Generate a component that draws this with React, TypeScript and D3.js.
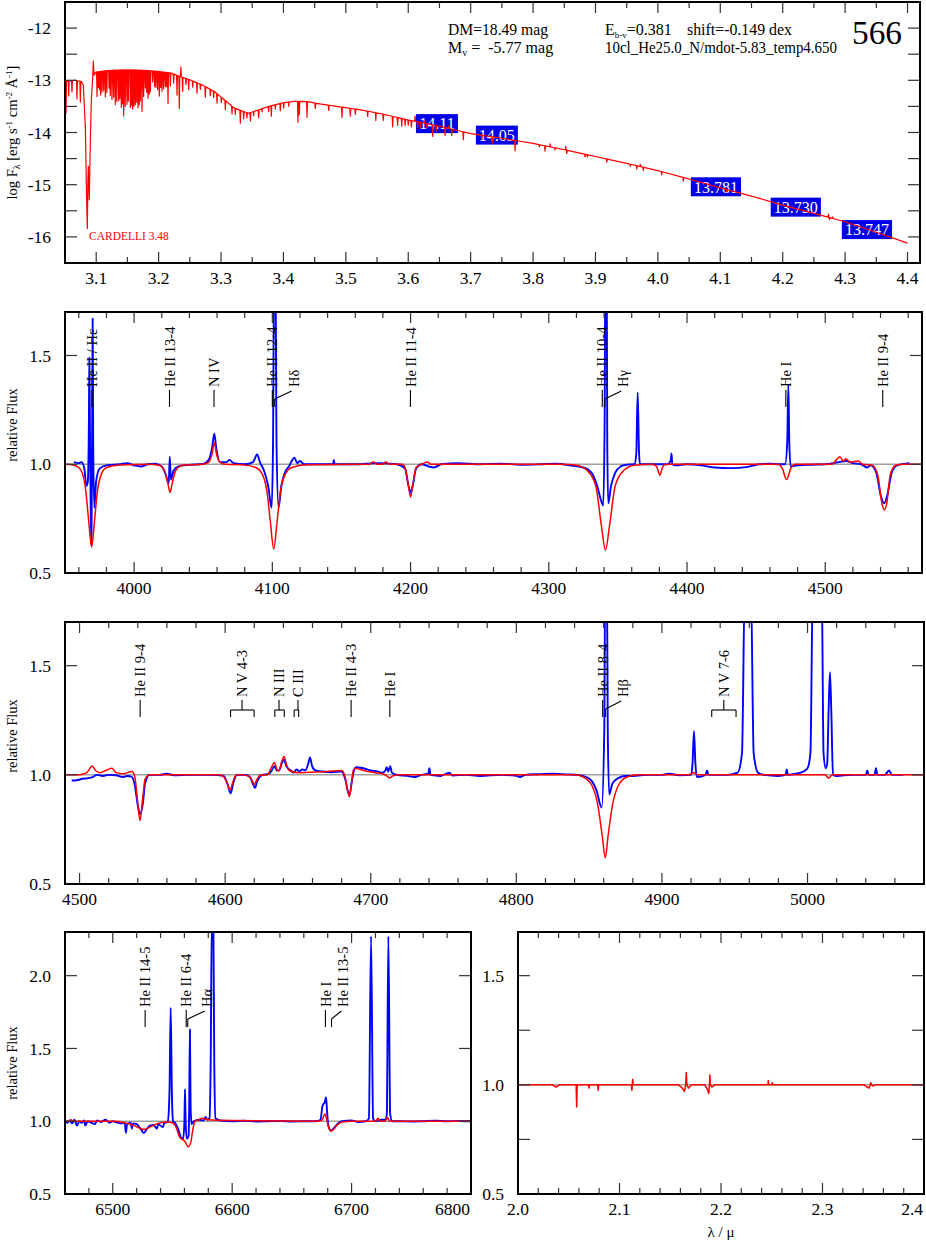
import React from 'react';
import * as d3 from 'd3';

const SERIF = '"Liberation Serif", "DejaVu Serif", serif';
const RED = '#ff0000';
const BLUE = '#0000ff';
const GREY = '#a0a0a0';

type Pt = [number, number];
type Box = { l: number; r: number; t: number; b: number };
type Mark = { lam: number; text: string; kind?: 'tick' | 'slant' | 'bracket'; at?: number; lo?: number; hi?: number };

// ---------------- panel 1 : model SED (log lambda, log F) ----------------
const sedShape: Pt[] = [
  [3.050, -13.02], [3.065, -13.0], [3.076, -13.02], [3.0794, -13.1], [3.0826, -13.89], [3.0845, -15.2],
  [3.0858, -15.84], [3.0866, -15.0], [3.0874, -14.65], [3.0882, -15.0], [3.0889, -15.29], [3.0905, -14.2],
  [3.0922, -13.38], [3.0943, -12.97], [3.0954, -12.63], [3.0966, -12.9], [3.100, -12.84], [3.120, -12.81],
  [3.140, -12.80], [3.160, -12.80], [3.180, -12.81], [3.200, -12.83], [3.220, -12.86], [3.235, -12.93],
  [3.250, -12.99], [3.270, -13.09], [3.290, -13.22], [3.302, -13.34], [3.320, -13.52], [3.334, -13.59],
  [3.344, -13.63], [3.360, -13.57], [3.376, -13.50], [3.400, -13.43], [3.420, -13.40], [3.440, -13.41],
  [3.451, -13.44], [3.480, -13.49], [3.526, -13.57], [3.560, -13.65], [3.600, -13.76], [3.650, -13.88],
  [3.700, -14.02], [3.750, -14.11], [3.800, -14.21], [3.850, -14.33], [3.900, -14.46], [3.950, -14.59],
  [4.000, -14.73], [4.050, -14.89], [4.100, -15.06], [4.150, -15.22], [4.200, -15.39], [4.250, -15.55],
  [4.300, -15.71], [4.350, -15.91], [4.400, -16.12],
];

// [log lambda, offset from continuum in dex]
const sedLines: Pt[] = [
  [3.0516, -0.61], [3.0559, -0.29], [3.0612, -0.22], [3.0692, -0.35], [3.0746, -0.40],
  [3.1013, -0.47], [3.1030, -0.30], [3.1050, -0.34], [3.1070, -0.45], [3.1093, -0.40], [3.1120, -0.38],
  [3.1146, -0.50], [3.1170, -0.42], [3.1206, -0.34], [3.1225, -0.48], [3.1253, -0.56], [3.1280, -0.52],
  [3.1306, -0.66], [3.1330, -0.60], [3.1360, -0.59], [3.1380, -0.55], [3.1403, -0.72], [3.1420, -0.65],
  [3.1440, -0.88], [3.1465, -0.70], [3.1493, -0.66], [3.1515, -0.60], [3.1547, -0.72], [3.1565, -0.68],
  [3.1584, -0.75], [3.1605, -0.70], [3.1627, -0.66], [3.1650, -0.62], [3.1670, -0.72], [3.1690, -0.66],
  [3.1707, -0.59], [3.1734, -0.79], [3.1760, -0.50], [3.1787, -0.34], [3.1810, -0.42], [3.1830, -0.53],
  [3.1850, -0.45], [3.1868, -0.40], [3.1905, -0.21], [3.1935, -0.30], [3.1958, -0.31], [3.1985, -0.35],
  [3.2012, -0.47], [3.2035, -0.30], [3.2054, -0.37], [3.2080, -0.32], [3.2108, -0.27], [3.2130, -0.28],
  [3.2151, -0.59], [3.2188, -0.25], [3.2241, -0.17], [3.2295, -0.38], [3.2332, -0.62], [3.2357, 0.19],
  [3.2385, -0.27], [3.2439, -0.12], [3.2482, -0.20], [3.2546, -0.12], [3.2615, -0.20], [3.2669, -0.10],
  [3.2749, -0.20], [3.2829, -0.12], [3.2882, -0.12], [3.2936, -0.18], [3.3005, -0.10], [3.3069, -0.18],
  [3.3176, -0.15], [3.3229, -0.12], [3.3309, -0.25], [3.3363, -0.14], [3.3416, -0.10], [3.3470, -0.16],
  [3.3523, -0.08], [3.3603, -0.15], [3.3656, -0.06], [3.3763, -0.10], [3.3806, -0.20], [3.3870, -0.08],
  [3.3950, -0.14], [3.4004, -0.10], [3.4084, -0.08], [3.4233, -0.40], [3.4255, -0.25], [3.4378, -0.30],
  [3.4511, -0.10], [3.4725, -0.10], [3.4938, -0.20], [3.5072, -0.15], [3.5152, -0.10], [3.5350, -0.10],
  [3.5480, -0.15], [3.5600, -0.12], [3.5750, -0.20], [3.5830, -0.15], [3.5896, -0.15], [3.5950, -0.12],
  [3.6000, -0.10], [3.6050, -0.12], [3.6109, 0.10], [3.6150, -0.12], [3.6200, -0.10], [3.6250, 0.05],
  [3.6300, -0.08], [3.6392, -0.22], [3.6450, -0.10], [3.6590, -0.15], [3.6650, 0.05], [3.6697, -0.12],
  [3.6883, -0.15], [3.7178, -0.08], [3.7348, -0.12], [3.7712, -0.20], [3.8100, -0.04], [3.8192, -0.10],
  [3.8272, 0.06], [3.8350, -0.04], [3.8524, 0.07], [3.8540, -0.06], [3.8833, -0.05], [3.8870, -0.04],
  [3.9181, -0.06], [3.9560, -0.04], [3.9662, -0.06], [3.9720, 0.04], [3.9767, -0.06], [4.0062, -0.06],
  [4.0409, -0.07], [4.1080, 0.03], [4.1104, -0.05], [4.2733, 0.06], [4.2750, -0.04], [4.2800, 0.03],
];

const photLogLam = [3.646, 3.742, 4.093, 4.221, 4.335];
const photLogF = [-13.83, -14.05, -15.04, -15.43, -15.86];
const photMag = ['14.11', '14.05', '13.781', '13.730', '13.747'];

const sedXTicks = [3.1, 3.2, 3.3, 3.4, 3.5, 3.6, 3.7, 3.8, 3.9, 4.0, 4.1, 4.2, 4.3, 4.4];
const sedYTicks = [-12, -13, -14, -15, -16];

// ---------------- panel 2 : 3950 - 4570 A ----------------
const obsB: Pt[] = [
  [3956.5, 1.01], [3960, 1.005], [3962, 1.01], [3964, 0.98], [3965.5, 0.9], [3966.5, 0.92], [3967.3, 1.2],
  [3967.6, 1.49], [3968, 1.2], [3968.6, 0.8], [3969.1, 0.63], [3969.6, 1.1], [3970.0, 1.67], [3970.4, 1.1],
  [3971.2, 0.80], [3972.5, 0.92], [3975, 0.98], [3980, 0.995], [3990, 1.0], [3995, 1.005], [4000, 0.995],
  [4005, 0.99], [4010, 1.0], [4015, 1.002], [4020, 0.99], [4023, 0.95], [4025, 0.91], [4025.8, 1.035],
  [4026.6, 0.93], [4028.5, 0.97], [4032, 0.99], [4040, 0.997], [4050, 1.002], [4054, 1.02], [4056.5, 1.08],
  [4058, 1.14], [4059.5, 1.07], [4062, 1.01], [4067, 1.01], [4069, 1.02], [4072, 1.005], [4080, 1.0],
  [4086, 1.01], [4089, 1.045], [4091, 1.01], [4094, 0.97], [4097, 0.9], [4099.5, 0.8], [4100.5, 1.1],
  [4101.3, 1.9], [4102.3, 1.9], [4103, 1.1], [4104.5, 0.80], [4106.5, 0.9], [4109, 0.96], [4112, 0.99],
  [4116, 1.03], [4118, 1.005], [4120, 1.015], [4123, 1.0], [4130, 1.0], [4144, 1.0], [4144.5, 1.02],
  [4145, 1.0], [4160, 1.0], [4175, 1.005], [4190, 1.0], [4196, 0.98], [4198.5, 0.9], [4200, 0.87],
  [4201.5, 0.9], [4204, 0.98], [4208, 1.0], [4213, 0.99], [4217, 0.985], [4222, 1.0], [4235, 1.005],
  [4250, 1.0], [4265, 1.003], [4280, 0.998], [4295, 1.0], [4305, 1.002], [4315, 0.995], [4325, 0.985],
  [4331, 0.96], [4335, 0.9], [4338, 0.83], [4339.4, 0.81], [4340.4, 1.2], [4340.9, 1.9], [4341.9, 1.9],
  [4342.3, 1.1], [4343, 0.82], [4345, 0.9], [4348, 0.96], [4352, 0.99], [4356, 0.998], [4362, 1.0],
  [4363.3, 1.05], [4364.3, 1.33], [4365.3, 1.05], [4366, 1.0], [4375, 1.0], [4386, 1.0], [4388.3, 1.02],
  [4388.8, 1.05], [4389.3, 1.0], [4392, 0.995], [4400, 1.0], [4410, 0.995], [4420, 0.985], [4432, 0.982],
  [4444, 0.988], [4452, 1.0], [4460, 1.002], [4466, 1.0], [4471, 1.0], [4472.5, 1.1], [4473.3, 1.365],
  [4474, 1.1], [4475, 0.99], [4480, 0.995], [4490, 0.998], [4500, 1.0], [4510, 1.01], [4515, 1.015],
  [4520, 1.005], [4526, 1.0], [4530, 0.985], [4533, 0.995], [4537, 0.96], [4540, 0.86], [4542.7, 0.82],
  [4545, 0.86], [4548, 0.96], [4552, 0.995], [4561, 1.005],
];
const modelB: Pt[] = [
  [3950, 1.0], [3955, 0.998], [3960, 0.985], [3963, 0.95], [3965, 0.88], [3967, 0.75], [3969.3, 0.62],
  [3971.5, 0.75], [3973.5, 0.88], [3976, 0.95], [3980, 0.985], [3990, 0.997], [4010, 1.0], [4018, 0.995],
  [4022, 0.97], [4024.5, 0.91], [4026, 0.87], [4027.5, 0.91], [4030, 0.97], [4035, 0.995], [4050, 1.0],
  [4054, 1.01], [4056.5, 1.05], [4058, 1.10], [4059.5, 1.05], [4062, 1.01], [4066, 1.0], [4080, 0.997],
  [4088, 0.985], [4093, 0.95], [4096, 0.88], [4098.5, 0.74], [4101, 0.61], [4103.5, 0.74], [4106, 0.88],
  [4109, 0.95], [4114, 0.985], [4125, 0.998], [4170, 1.0], [4173, 1.01], [4176, 1.0], [4180, 1.0],
  [4182, 1.01], [4185, 1.0], [4194, 1.0], [4196, 0.985], [4198.5, 0.9], [4200, 0.85], [4201.5, 0.9],
  [4204, 0.985], [4208, 1.0], [4212, 1.01], [4215, 1.0], [4310, 1.0], [4320, 0.995], [4328, 0.97],
  [4334, 0.9], [4338, 0.72], [4341, 0.605], [4344, 0.72], [4348, 0.9], [4354, 0.97], [4362, 0.995],
  [4375, 1.0], [4378, 0.99], [4380.4, 0.95], [4382.5, 0.99], [4385, 1.0], [4466, 1.0], [4469, 0.98],
  [4472, 0.93], [4475, 0.98], [4478, 1.0], [4505, 1.0], [4508, 1.02], [4510.6, 1.035], [4513, 1.015],
  [4515, 1.025], [4518, 1.01], [4524, 1.015], [4527, 1.0], [4534, 0.995], [4538, 0.95], [4541, 0.82],
  [4542.7, 0.79], [4544.5, 0.82], [4547, 0.95], [4551, 0.995], [4556, 1.0], [4570, 1.0],
];
const marksB: Mark[] = [
  { lam: 3969.5, text: 'He II / Hε' },
  { lam: 4025.6, text: 'He II 13-4' },
  { lam: 4057.8, text: 'N IV' },
  { lam: 4100.0, text: 'He II 12-4' },
  { lam: 4101.7, text: 'Hδ', kind: 'slant', at: 4115.4 },
  { lam: 4199.9, text: 'He II 11-4' },
  { lam: 4338.7, text: 'He II 10-4' },
  { lam: 4340.5, text: 'Hγ', kind: 'slant', at: 4353.9 },
  { lam: 4471.5, text: 'He I' },
  { lam: 4541.6, text: 'He II 9-4' },
];

// ---------------- panel 3 : 4490 - 5080 A ----------------
const obsC: Pt[] = [
  [4494.6, 0.974], [4498, 0.975], [4502, 0.982], [4506, 0.985], [4509, 0.99], [4512, 1.0], [4516, 0.995],
  [4520, 1.0], [4525, 0.998], [4530, 0.99], [4533, 0.995], [4536, 0.99], [4538, 0.95], [4540, 0.86],
  [4541.6, 0.82], [4543.5, 0.87], [4545, 0.96], [4548, 1.0], [4555, 1.0], [4560, 1.005], [4565, 0.998],
  [4575, 1.0], [4590, 1.0], [4599, 0.995], [4601.5, 0.96], [4603.8, 0.915], [4605.5, 0.96], [4608, 1.0],
  [4614, 1.0], [4617, 0.99], [4619, 0.96], [4620.5, 0.94], [4622, 0.97], [4625, 0.998], [4630, 1.005],
  [4632, 1.02], [4633.8, 1.04], [4635.5, 1.02], [4637, 1.02], [4639, 1.055], [4640.4, 1.07], [4642, 1.04],
  [4645, 1.02], [4647, 1.01], [4649, 1.025], [4651, 1.015], [4653, 1.025], [4655, 1.02], [4657, 1.05],
  [4658.3, 1.08], [4659.7, 1.04], [4662, 1.02], [4667, 1.015], [4673, 1.012], [4680, 1.015], [4682.5, 0.98],
  [4684.5, 0.92], [4685.5, 0.91], [4687, 0.97], [4688.5, 1.02], [4690, 1.035], [4695, 1.03], [4700, 1.02],
  [4705, 1.015], [4708, 1.01], [4710, 1.02], [4711, 1.035], [4712, 1.015], [4713.4, 1.04], [4714.5, 1.01],
  [4718, 1.0], [4725, 0.995], [4730, 0.99], [4735, 1.0], [4739.5, 1.005], [4740.3, 1.03], [4741, 1.0],
  [4748, 0.995], [4754, 1.01], [4756, 0.997], [4765, 1.0], [4775, 0.995], [4790, 1.0], [4800, 0.995],
  [4802.5, 0.99], [4806, 1.0], [4815, 1.003], [4825, 1.005], [4835, 1.002], [4842, 1.0], [4848, 0.99],
  [4852, 0.97], [4855, 0.93], [4858.6, 0.85], [4860.4, 1.2], [4861.0, 1.9], [4862.2, 1.9], [4862.8, 1.2],
  [4863.8, 0.91], [4866, 0.96], [4870, 0.985], [4875, 0.995], [4880, 0.995], [4890, 1.0], [4900, 1.0],
  [4905, 1.005], [4912, 0.998], [4920, 1.0], [4921, 1.05], [4922, 1.20], [4923, 1.05], [4924, 0.99],
  [4930, 1.0], [4931, 1.02], [4932, 1.0], [4945, 1.0], [4952, 1.01], [4955, 1.1], [4957, 1.9], [4961, 1.9],
  [4963, 1.1], [4966, 1.01], [4970, 1.0], [4980, 0.995], [4985, 1.0], [4985.7, 1.025], [4986.5, 1.0],
  [4992, 1.005], [4997, 1.015], [5000, 1.03], [5002, 1.1], [5003.7, 1.9], [5009.7, 1.9], [5011, 1.1],
  [5012.5, 1.03], [5013.5, 1.05], [5014.5, 1.3], [5015.4, 1.47], [5016.3, 1.3], [5017.5, 1.0],
  [5020, 0.995], [5030, 1.0], [5040, 1.0], [5041, 1.02], [5042, 1.0], [5046, 1.0], [5047, 1.03],
  [5048, 1.0], [5053, 1.0], [5056, 1.02], [5058, 1.0], [5065.8, 1.0],
];
const modelC: Pt[] = [
  [4490, 1.0], [4500, 1.0], [4505, 1.01], [4508.7, 1.04], [4511, 1.02], [4514, 1.01], [4518, 1.02],
  [4522.4, 1.03], [4525, 1.01], [4530, 1.005], [4536, 1.015], [4538, 0.99], [4539.5, 0.9], [4541.5, 0.79],
  [4543.5, 0.9], [4545, 0.98], [4548, 1.0], [4596, 1.0], [4599, 0.99], [4601.5, 0.96], [4603.3, 0.93],
  [4605, 0.96], [4607, 0.995], [4610, 1.0], [4616, 0.995], [4618.5, 0.975], [4620, 0.955], [4621.5, 0.975],
  [4624, 0.998], [4629, 1.0], [4631.5, 1.03], [4633.8, 1.056], [4636, 1.02], [4637, 1.02], [4638.8, 1.06],
  [4640.4, 1.084], [4642, 1.05], [4644, 1.02], [4650, 1.01], [4660, 1.012], [4670, 1.015], [4680, 1.02],
  [4682, 1.0], [4683.8, 0.94], [4685.3, 0.90], [4686.6, 0.95], [4688, 1.02], [4689.5, 1.03], [4695, 1.02],
  [4703, 1.01], [4708, 1.005], [4711, 0.995], [4713, 0.985], [4715, 0.995], [4720, 1.0], [4840, 1.0],
  [4846, 0.99], [4852, 0.95], [4856, 0.86], [4859, 0.72], [4861.1, 0.62], [4863, 0.72], [4866, 0.86],
  [4870, 0.95], [4876, 0.99], [4884, 1.0], [4918, 1.0], [4922, 1.01], [4925, 1.0], [5012, 1.0],
  [5014.5, 0.985], [5017, 1.0], [5080, 1.0],
];
const marksC: Mark[] = [
  { lam: 4541.6, text: 'He II 9-4' },
  { lam: 4611.6, text: 'N V 4-3', kind: 'bracket', lo: 4603.7, hi: 4619.9 },
  { lam: 4637.0, text: 'N III', kind: 'bracket', lo: 4634.1, hi: 4640.6 },
  { lam: 4650.0, text: 'C III', kind: 'bracket', lo: 4647.4, hi: 4650.5 },
  { lam: 4686.5, text: 'He II 4-3' },
  { lam: 4713.1, text: 'He I' },
  { lam: 4859.3, text: 'He II 8-4' },
  { lam: 4861.3, text: 'Hβ', kind: 'slant', at: 4873.4 },
  { lam: 4942.5, text: 'N V 7-6', kind: 'bracket', lo: 4934.2, hi: 4950.9 },
];

// ---------------- panel 4 : 6460 - 6800 A ----------------
const obsD: Pt[] = [
  [6460, 1.0], [6462, 0.99], [6464, 1.005], [6466, 0.985], [6468, 1.01], [6470, 0.97], [6472, 1.0],
  [6474, 0.99], [6476, 1.005], [6477, 0.97], [6479, 1.0], [6482, 0.99], [6485, 0.98], [6487, 1.005],
  [6490, 0.995], [6494, 1.01], [6497, 0.99], [6500, 1.0], [6504, 0.99], [6507, 0.985], [6510, 0.99],
  [6511, 0.92], [6512, 0.98], [6515, 0.99], [6516, 0.95], [6517, 0.985], [6520, 0.98], [6524, 0.94],
  [6526, 0.92], [6528, 0.94], [6531, 0.97], [6534, 0.975], [6537, 0.95], [6538, 0.98], [6542, 0.96],
  [6543, 0.985], [6546, 0.995], [6547.5, 1.2], [6548.5, 1.78], [6549.5, 1.2], [6550.5, 1.0], [6552, 0.99],
  [6555, 0.94], [6557, 0.89], [6559, 0.88], [6560, 1.0], [6560.5, 1.22], [6561, 1.0], [6562, 0.88],
  [6563.5, 0.9], [6564, 1.1], [6564.6, 1.63], [6565.2, 1.1], [6566, 0.98], [6568, 1.0], [6572, 1.01],
  [6576, 1.005], [6577.8, 1.03], [6579, 1.01], [6581, 1.02], [6582, 1.4], [6583, 2.4], [6584.2, 2.4],
  [6585, 1.4], [6586, 1.02], [6590, 1.005], [6600, 1.0], [6610, 1.003], [6620, 0.998], [6630, 1.0],
  [6640, 1.002], [6650, 0.998], [6660, 1.0], [6670, 1.0], [6674, 1.01], [6675.5, 1.1], [6676.5, 1.12],
  [6677.5, 1.13], [6678.6, 1.165], [6679.6, 1.05], [6680.5, 0.97], [6682.8, 0.935], [6685, 0.95],
  [6688, 0.98], [6692, 1.0], [6700, 1.005], [6705, 0.995], [6712, 1.0], [6714.5, 1.02], [6716.3, 2.27],
  [6718, 1.02], [6720, 1.0], [6725, 1.01], [6728.5, 1.01], [6729.5, 1.05], [6730.8, 2.27], [6732.3, 1.05],
  [6734, 1.0], [6740, 1.0], [6750, 0.998], [6760, 1.0], [6770, 1.003], [6780, 1.0], [6790, 1.002],
  [6800, 1.0],
];
const modelD: Pt[] = [
  [6460, 1.0], [6463, 1.0], [6465, 1.01], [6467, 1.0], [6500, 1.0], [6510, 0.99], [6518, 0.97],
  [6523, 0.95], [6526.4, 0.944], [6530, 0.955], [6536, 0.98], [6545, 0.995], [6550, 0.99], [6553, 0.96],
  [6556, 0.89], [6558, 0.875], [6560, 0.865], [6563.3, 0.825], [6565.5, 0.86], [6567, 0.94], [6569, 1.0],
  [6572, 1.01], [6575, 1.02], [6580, 1.01], [6600, 1.005], [6670, 1.0], [6675, 1.005], [6677.7, 1.05],
  [6679.5, 1.0], [6681, 0.95], [6682.8, 0.933], [6685, 0.945], [6688, 0.975], [6692, 0.995], [6700, 1.0],
  [6720, 1.0], [6722, 1.02], [6724, 1.0], [6728, 1.0], [6730, 1.025], [6732, 1.0], [6800, 1.0],
];
const marksD: Mark[] = [
  { lam: 6527.1, text: 'He II 14-5' },
  { lam: 6561.5, text: 'He II 6-4' },
  { lam: 6562.8, text: 'Hα', kind: 'slant', at: 6578.7 },
  { lam: 6678.1, text: 'He I' },
  { lam: 6683.2, text: 'He II 13-5', kind: 'slant', at: 6693.1 },
];

// ---------------- panel 5 : 2.0 - 2.4 micron (model only) ----------------
const modelE: Pt[] = [
  [2.0, 1.0], [2.034, 1.0], [2.0374, 0.99], [2.041, 1.0], [2.0573, 1.0], [2.0578, 0.898], [2.0583, 1.0],
  [2.0695, 1.0], [2.070, 0.985], [2.0705, 1.0], [2.0785, 1.0], [2.079, 0.975], [2.0795, 1.0],
  [2.1118, 1.0], [2.1122, 0.975], [2.1126, 1.0], [2.1130, 1.025], [2.1134, 1.0], [2.158, 1.0],
  [2.161, 0.99], [2.164, 0.97], [2.1652, 1.0], [2.1658, 1.056], [2.1664, 1.0], [2.168, 0.985],
  [2.171, 1.0], [2.184, 1.0], [2.1865, 0.98], [2.188, 0.96], [2.1886, 1.0], [2.1890, 1.045],
  [2.1895, 1.0], [2.191, 0.99], [2.194, 1.0], [2.2462, 1.0], [2.2466, 1.02], [2.2470, 1.0],
  [2.250, 1.0], [2.2505, 1.01], [2.251, 1.0], [2.341, 1.0], [2.344, 0.99], [2.346, 0.985],
  [2.3475, 1.01], [2.349, 0.995], [2.352, 1.0], [2.4, 1.0],
];

const fluxTicks = [0.5, 1.0, 1.5];

// ------------------------------------------------------------------
function Axes({ box, x, y, xMajor, xMinor, yMajor, yMinor, xFmt, yFmt }: any) {
  const els: any[] = [];
  const { l, r, t, b } = box;
  xMajor.forEach((v: number, i: number) => {
    const px = x(v);
    els.push(<line key={'xm' + i} x1={px} x2={px} y1={b} y2={b - 11} />);
    els.push(<line key={'xt' + i} x1={px} x2={px} y1={t} y2={t + 11} />);
  });
  xMinor.forEach((v: number, i: number) => {
    const px = x(v);
    els.push(<line key={'xn' + i} x1={px} x2={px} y1={b} y2={b - 6} />);
    els.push(<line key={'xo' + i} x1={px} x2={px} y1={t} y2={t + 6} />);
  });
  [...yMajor, ...yMinor].forEach((v: number, i: number) => {
    const py = y(v);
    els.push(<line key={'y' + i} x1={l} x2={l + 12} y1={py} y2={py} />);
    els.push(<line key={'yr' + i} x1={r} x2={r - 12} y1={py} y2={py} />);
  });
  const labels: any[] = [];
  xMajor.forEach((v: number, i: number) => {
    const px = x(v);
    const atEdge = Math.abs(px - r) < 3;
    labels.push(
      <text key={'lx' + i} x={atEdge ? r - 1 : px} y={b + 21} textAnchor={atEdge ? 'end' : 'middle'}>
        {xFmt(v)}
      </text>
    );
  });
  yMajor.forEach((v: number, i: number) => {
    labels.push(
      <text key={'ly' + i} x={l - 14} y={y(v)} dy="0.35em" textAnchor="end">
        {yFmt(v)}
      </text>
    );
  });
  return (
    <g>
      <g stroke="#333" strokeWidth={1.2}>{els}</g>
      <rect x={l} y={t} width={r - l} height={b - t} fill="none" stroke="#000" strokeWidth={2} />
      <g fontSize={17.5} fill="#000">{labels}</g>
    </g>
  );
}

function LineMarks({ marks, x, top }: { marks: Mark[]; x: any; top: number }) {
  const yText = top + 75;
  const yT = top + 78;
  const yB = top + 95;
  return (
    <g>
      {marks.map((m, i) => {
        const lx = m.kind === 'slant' ? x(m.at) : x(m.lam);
        let mark: any = null;
        if (m.kind === 'slant') {
          const x0 = x(m.lam);
          mark = (
            <g>
              <line x1={x0} x2={x0} y1={yB} y2={yT + 9} />
              <line x1={x0} y1={yT + 9} x2={lx - 2} y2={yT + 1} />
            </g>
          );
        } else if (m.kind === 'bracket') {
          const yBar = yT + 10;
          mark = (
            <g>
              <line x1={x(m.lo)} x2={x(m.hi)} y1={yBar} y2={yBar} />
              <line x1={x(m.lo)} x2={x(m.lo)} y1={yBar} y2={yB} />
              <line x1={x(m.hi)} x2={x(m.hi)} y1={yBar} y2={yB} />
              <line x1={lx} x2={lx} y1={yT} y2={yBar} />
            </g>
          );
        } else {
          mark = <line x1={lx} x2={lx} y1={yT} y2={yB} />;
        }
        return (
          <g key={i}>
            <g stroke="#000" strokeWidth={1.1}>{mark}</g>
            <text
              transform={`translate(${lx},${yText}) rotate(-90)`}
              dy="0.35em"
              fontSize={14.5}
              fill="#000"
            >
              {m.text}
            </text>
          </g>
        );
      })}
    </g>
  );
}

function SpecPanel({ id, box, xDomain, yDomain, xMajor, xStep, yMajor, yMinor, xFmt, obs, model, marks, yLabel, yLabelAt }: any) {
  const x = d3.scaleLinear().domain(xDomain).range([box.l, box.r]);
  const y = d3.scaleLinear().domain(yDomain).range([box.b, box.t]);
  const minor: number[] = [];
  const first = Math.ceil(xDomain[0] / xStep - 1e-6);
  for (let k = first; k * xStep <= xDomain[1] + 1e-9; k++) {
    const v = +(k * xStep).toFixed(6);
    if (!xMajor.some((m: number) => Math.abs(m - v) < xStep / 10) && v > xDomain[0] + 1e-9 && v < xDomain[1] - 1e-9) minor.push(v);
  }
  const line = d3
    .line<Pt>()
    .x((d) => x(d[0]))
    .y((d) => y(d[1]))
    .curve(d3.curveMonotoneX);
  const sharp = d3
    .line<Pt>()
    .x((d) => x(d[0]))
    .y((d) => y(d[1]));
  const sortP = (a: Pt[]) => [...a].sort((p, q) => p[0] - q[0]);
  return (
    <g>
      <defs>
        <clipPath id={id}>
          <rect x={box.l} y={box.t} width={box.r - box.l} height={box.b - box.t} />
        </clipPath>
      </defs>
      <g clipPath={`url(#${id})`}>
        <line x1={box.l} x2={box.r} y1={y(1)} y2={y(1)} stroke={GREY} strokeWidth={1.5} />
        {obs && <path d={line(sortP(obs)) || ''} fill="none" stroke={BLUE} strokeWidth={1.9} strokeLinejoin="round" />}
        {model && (
          <path
            d={(obs ? line : sharp)(sortP(model)) || ''}
            fill="none"
            stroke={RED}
            strokeWidth={1.5}
            strokeLinejoin="round"
          />
        )}
      </g>
      {marks && <LineMarks marks={marks} x={x} top={box.t} />}
      <Axes
        box={box}
        x={x}
        y={y}
        xMajor={xMajor}
        xMinor={minor}
        yMajor={yMajor}
        yMinor={yMinor}
        xFmt={xFmt}
        yFmt={(v: number) => v.toFixed(1)}
      />
      {yLabel && (
        <text
          transform={`translate(17,${yLabelAt ?? (box.t + box.b) / 2}) rotate(-90)`}
          textAnchor="middle"
          fontSize={14.5}
        >
          {yLabel}
        </text>
      )}
    </g>
  );
}

function SedPanel() {
  const box: Box = { l: 65, r: 920, t: 2, b: 263 };
  const x = d3.scaleLinear().domain([3.05, 4.42]).range([box.l, box.r]);
  const y = d3.scaleLinear().domain([-16.5, -11.5]).range([box.b, box.t]);
  const cont = d3
    .scaleLinear()
    .domain(sedShape.map((d) => d[0]))
    .range(sedShape.map((d) => d[1]));
  const W = 0.0007;
  const knots = sedShape.filter(([l]) => !sedLines.some(([c]) => Math.abs(c - l) < 1.6 * W));
  const pts: Pt[] = [
    ...knots,
    ...sedLines.flatMap(([c, d]) => [
      [c - W, cont(c - W)] as Pt,
      [c, cont(c) + d] as Pt,
      [c + W, cont(c + W)] as Pt,
    ]),
  ].sort((a, b) => a[0] - b[0]);
  const path = d3
    .line<Pt>()
    .x((d) => x(d[0]))
    .y((d) => y(d[1]))(pts);
  const minor = sedXTicks.slice(0, -1).map((v) => +(v + 0.05).toFixed(2));
  const yMinor = [-12.5, -13.5, -14.5, -15.5];
  return (
    <g>
      <defs>
        <clipPath id="sedclip">
          <rect x={box.l} y={box.t} width={box.r - box.l} height={box.b - box.t} />
        </clipPath>
      </defs>
      <g clipPath="url(#sedclip)">
        {photMag.map((m, i) => {
          const w = m.length * 8.2 + 1;
          const cx = x(photLogLam[i]);
          const cy = y(photLogF[i]);
          return (
            <g key={i}>
              <rect x={cx - w / 2} y={cy - 9.5} width={w} height={19} fill="#0000e8" />
              <text x={cx} y={cy} dy="0.36em" textAnchor="middle" fill="#fff" fontSize={16}>
                {m}
              </text>
            </g>
          );
        })}
        <path d={path || ''} fill="none" stroke={RED} strokeWidth={1.2} strokeLinejoin="round" />
      </g>
      <text x={89} y={240} fill={RED} fontSize={11.5}>
        CARDELLI 3.48
      </text>
      <Axes
        box={box}
        x={x}
        y={y}
        xMajor={sedXTicks}
        xMinor={minor}
        yMajor={sedYTicks}
        yMinor={yMinor}
        xFmt={(v: number) => v.toFixed(1)}
        yFmt={(v: number) => String(v)}
      />
      <text transform={`translate(17,${(box.t + box.b) / 2}) rotate(-90)`} textAnchor="middle" fontSize={14.5}>
        log F<tspan dy={3} fontSize={10}>λ</tspan>
        <tspan dy={-3}> [erg s</tspan>
        <tspan dy={-5} fontSize={9}>-1</tspan>
        <tspan dy={5}> cm</tspan>
        <tspan dy={-5} fontSize={9}>-2</tspan>
        <tspan dy={5}> Å</tspan>
        <tspan dy={-5} fontSize={9}>-1</tspan>
        <tspan dy={5}>]</tspan>
      </text>
      <g fontSize={16} fill="#000">
        <text x={448} y={35} textLength={100} lengthAdjust="spacingAndGlyphs">DM=18.49 mag</text>
        <text x={448} y={53} style={{ whiteSpace: 'pre' }}>
          M<tspan dy={3} fontSize={10}>v</tspan>
          <tspan dy={-3}>{' =  -5.77 mag'}</tspan>
        </text>
        <text x={605} y={35}>
          E<tspan dy={3} fontSize={9}>b-v</tspan>
          <tspan dy={-3}>=0.381</tspan>
        </text>
        <text x={687} y={35} textLength={105} lengthAdjust="spacingAndGlyphs">shift=-0.149 dex</text>
        <text x={605} y={53} textLength={232} lengthAdjust="spacingAndGlyphs">10cl_He25.0_N/mdot-5.83_temp4.650</text>
      </g>
      <text x={852} y={44} fontSize={34} textLength={50} lengthAdjust="spacingAndGlyphs">
        566
      </text>
    </g>
  );
}

export default function App() {
  return (
    <svg
      width={926}
      height={1245}
      style={{ position: 'absolute', left: 0, top: 0, background: '#fff' }}
      fontFamily={SERIF}
    >
      <rect width={926} height={1245} fill="#fff" />
      <SedPanel />
      <SpecPanel
        id="p2"
        box={{ l: 65, r: 922, t: 312, b: 573 }}
        xDomain={[3950, 4570]}
        yDomain={[0.5, 1.7]}
        xMajor={[4000, 4100, 4200, 4300, 4400, 4500]}
        xStep={20}
        yMajor={fluxTicks}
        yMinor={[]}
        xFmt={(v: number) => String(v)}
        obs={obsB}
        model={modelB}
        marks={marksB}
        yLabel="relative Flux"
        yLabelAt={425}
      />
      <SpecPanel
        id="p3"
        box={{ l: 65, r: 924, t: 622, b: 884 }}
        xDomain={[4490, 5080]}
        yDomain={[0.5, 1.7]}
        xMajor={[4500, 4600, 4700, 4800, 4900, 5000]}
        xStep={20}
        yMajor={fluxTicks}
        yMinor={[]}
        xFmt={(v: number) => String(v)}
        obs={obsC}
        model={modelC}
        marks={marksC}
        yLabel="relative Flux"
        yLabelAt={736}
      />
      <SpecPanel
        id="p4"
        box={{ l: 65, r: 471, t: 932, b: 1194 }}
        xDomain={[6460, 6800]}
        yDomain={[0.5, 2.3]}
        xMajor={[6500, 6600, 6700, 6800]}
        xStep={20}
        yMajor={[0.5, 1.0, 1.5, 2.0]}
        yMinor={[]}
        xFmt={(v: number) => String(v)}
        obs={obsD}
        model={modelD}
        marks={marksD}
        yLabel="relative Flux"
      />
      <SpecPanel
        id="p5"
        box={{ l: 518, r: 924, t: 932, b: 1194 }}
        xDomain={[2.0, 2.4]}
        yDomain={[0.5, 1.7]}
        xMajor={[2.0, 2.1, 2.2, 2.3, 2.4]}
        xStep={0.02}
        yMajor={fluxTicks}
        yMinor={[0.75, 1.25]}
        xFmt={(v: number) => v.toFixed(1)}
        obs={null}
        model={modelE}
        marks={null}
        yLabel={null}
      />
      <text x={721} y={1237} textAnchor="middle" fontSize={15}>
        λ / μ
      </text>
    </svg>
  );
}
